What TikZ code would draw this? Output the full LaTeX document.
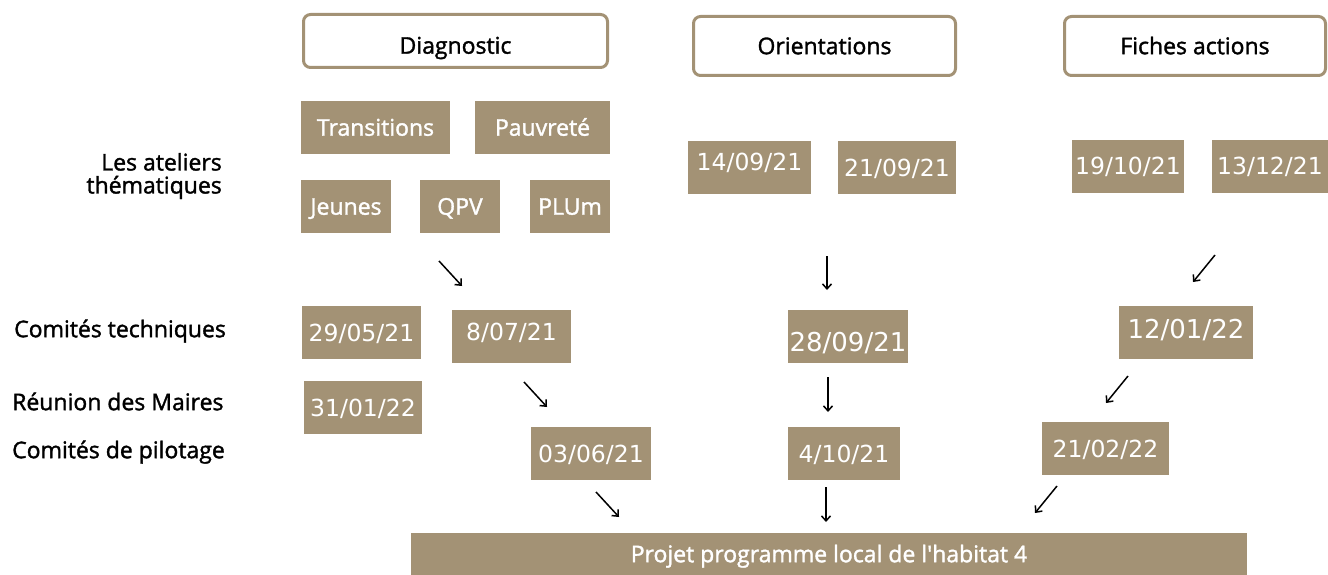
\documentclass[tikz,border=0pt]{standalone}
\usepackage{fontspec}
\setmainfont{Open Sans}[BoldFont={Open Sans}, BoldFeatures={FakeBold=1.5}]
\newfontfamily\datefont{DejaVu Sans}
\usetikzlibrary{arrows.meta}
\definecolor{taupe}{RGB}{163,146,117}

\tikzset{
  phase/.style={draw=taupe, line width=3pt, rounded corners=7pt, fill=white, inner sep=0pt,
    font=\fontsize{23}{27}\selectfont\bfseries, text height=16.4pt, text depth=0pt},
  theme/.style={fill=taupe, text=white, inner sep=0pt, minimum height=53pt,
    font=\fontsize{23}{27}\selectfont\bfseries, text height=16.4pt, text depth=0pt},
  datebox/.style={fill=taupe, text=white, inner sep=0pt, minimum height=53pt,
    font=\datefont\fontsize{23.5}{28}\selectfont, text height=17pt, text depth=0pt},
  rowlabel/.style={font=\fontsize{23}{23}\selectfont\bfseries, inner sep=0pt},
  rowtext/.style={rowlabel, text height=16.4pt, text depth=0pt},
  flow/.style={line width=1.5pt, -{Straight Barb[length=5pt,width=9pt]}}
}

\begin{document}
\begin{tikzpicture}[x=1pt, y=-1pt]
    \useasboundingbox (0,0) rectangle (1328,575);

    \node [phase, minimum width=304pt, minimum height=53pt, text height=25.4pt] (diag) at (455.5,41) {Diagnostic};
    \node [phase, minimum width=262pt, minimum height=59pt] (orient) at (824.5,46) {Orientations};
    \node [phase, minimum width=261pt, minimum height=59pt] (fiches) at (1195,46) {Fiches actions};

    \node [rowlabel, anchor=east, align=right] (ateliers) at (222,176) {Les ateliers\\thématiques};
    \node [rowtext, anchor=west] (cotech) at (14,329) {Comités techniques};
    \node [rowtext, anchor=west] (maires) at (12,402) {Réunion des Maires};
    \node [rowtext, anchor=west] (copil) at (12,450) {Comités de pilotage};

    \node [theme, minimum width=149pt] (trans) at (375.5,127.5) {Transitions};
    \node [theme, minimum width=135pt] (pauv) at (542.5,127.5) {Pauvreté};
    \node [theme, minimum width=90pt] (jeunes) at (346,206.5) {Jeunes};
    \node [theme, minimum width=80pt] (qpv) at (460,206.5) {QPV};
    \node [theme, minimum width=80pt] (plum) at (570,206.5) {PLUm};

    \node [datebox, minimum width=123pt, text depth=10pt] (d1409) at (749.5,167.5) {14/09/21};
    \node [datebox, minimum width=118pt] (d2109) at (897,167.5) {21/09/21};
    \node [datebox, minimum width=112pt] (d1910) at (1128,166.5) {19/10/21};
    \node [datebox, minimum width=116pt] (d1312) at (1270,166.5) {13/12/21};

    \node [datebox, minimum width=119pt] (d2905) at (361.5,332.5) {29/05/21};
    \node [datebox, minimum width=119pt, text depth=10pt] (d0807) at (511.5,336.5) {8/07/21};
    \node [datebox, minimum width=118pt] (d3101) at (363,407.5) {31/01/22};
    \node [datebox, minimum width=120pt] (d0306) at (591,453.5) {03/06/21};
    \node [datebox, minimum width=120pt, text height=29pt, font=\datefont\fontsize{26}{30}\selectfont] (d2809) at (848,336.5) {28/09/21};
    \node [datebox, minimum width=112pt] (d0410) at (844,453.5) {4/10/21};
    \node [datebox, minimum width=134pt, text depth=6pt, font=\datefont\fontsize{26}{30}\selectfont] (d1201) at (1186,332.5) {12/01/22};
    \node [datebox, minimum width=127pt] (d2102) at (1105.5,448.5) {21/02/22};

    \node [theme, minimum width=836pt, minimum height=42pt] (plh) at (829,554) {Projet programme local de l\textquotesingle habitat 4};

    \coordinate (a1s) at (439,261);  \coordinate (a1e) at (462,286);
    \coordinate (a2s) at (524,382);  \coordinate (a2e) at (547,407);
    \coordinate (a3s) at (596,492);  \coordinate (a3e) at (619,517);
    \coordinate (a4s) at (827,256);  \coordinate (a4e) at (827,290);
    \coordinate (a5s) at (828,377);  \coordinate (a5e) at (828,412);
    \coordinate (a6s) at (826,487);  \coordinate (a6e) at (826,522);
    \coordinate (a7s) at (1215,255); \coordinate (a7e) at (1193,282);
    \coordinate (a8s) at (1128,376); \coordinate (a8e) at (1106,403);
    \coordinate (a9s) at (1057,486); \coordinate (a9e) at (1035,513);

    \draw [flow] (a1s) -- (a1e);
    \draw [flow] (a2s) -- (a2e);
    \draw [flow] (a3s) -- (a3e);
    \draw [flow] (a4s) -- (a4e);
    \draw [flow] (a5s) -- (a5e);
    \draw [flow] (a6s) -- (a6e);
    \draw [flow] (a7s) -- (a7e);
    \draw [flow] (a8s) -- (a8e);
    \draw [flow] (a9s) -- (a9e);
\end{tikzpicture}
\end{document}
